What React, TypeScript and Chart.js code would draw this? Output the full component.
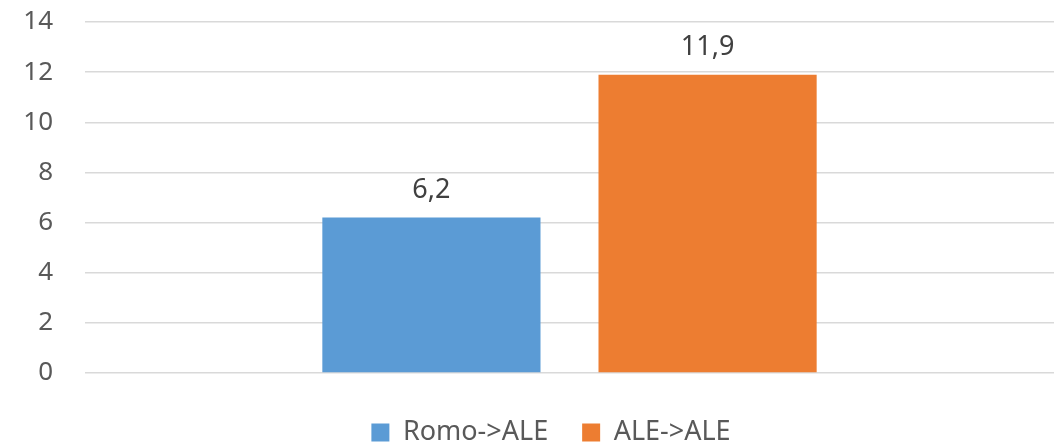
import React, { useEffect, useRef } from "react";
import { Chart, registerables } from "chart.js";

Chart.register(...registerables);

const categories: string[] = [""];
const seriesNames: string[] = ["Romo->ALE", "ALE->ALE"];
const romoValues: number[] = [6.2];
const aleValues: number[] = [11.9];
const seriesColors: string[] = ["#5B9BD5", "#ED7D31"];
const yMin = 0;
const yMax = 14;
const yStep = 2;

const FONT = "'Noto Sans', 'DejaVu Sans', sans-serif";

const dataLabelPlugin = {
  id: "dataLabels",
  afterDatasetsDraw(chart: any) {
    const ctx = chart.ctx;
    ctx.save();
    ctx.font = `27px ${FONT}`;
    ctx.fillStyle = "#404040";
    ctx.textAlign = "center";
    ctx.textBaseline = "alphabetic";
    chart.data.datasets.forEach((ds: any, i: number) => {
      const meta = chart.getDatasetMeta(i);
      meta.data.forEach((bar: any, j: number) => {
        const v = ds.data[j];
        const txt = String(v).replace(".", ",");
        ctx.fillText(txt, bar.x, bar.y - 20);
      });
    });
    ctx.restore();
  },
};

const legendShiftPlugin = {
  id: "legendShift",
  afterLayout(chart: any) {
    if (chart.legend) {
      chart.legend.left += 24;
      chart.legend.right += 24;
    }
  },
};

export default function App() {
  const ref = useRef<HTMLCanvasElement | null>(null);
  useEffect(() => {
    if (!ref.current) return;
    const chart = new Chart(ref.current, {
      type: "bar",
      data: {
        labels: categories,
        datasets: [
          {
            label: seriesNames[0],
            data: romoValues,
            backgroundColor: seriesColors[0],
            categoryPercentage: 0.57,
            barPercentage: 0.79,
          },
          {
            label: seriesNames[1],
            data: aleValues,
            backgroundColor: seriesColors[1],
            categoryPercentage: 0.57,
            barPercentage: 0.79,
          },
        ],
      },
      options: {
        animation: false,
        responsive: false,
        maintainAspectRatio: false,
        layout: { padding: { top: 22, right: 7, left: 0, bottom: 0 } },
        plugins: {
          legend: {
            position: "bottom",
            maxHeight: 61,
            labels: {
              font: { family: FONT, size: 27 },
              color: "#595959",
              boxWidth: 18,
              boxHeight: 18,
              padding: 34,
            },
          },
          tooltip: { enabled: false },
        },
        scales: {
          x: {
            ticks: { display: false },
            grid: { display: false },
            border: { display: false },
            afterFit: (scale: any) => {
              scale.height = 12;
            },
          },
          y: {
            min: yMin,
            max: yMax,
            ticks: {
              stepSize: yStep,
              font: { family: FONT, size: 26 },
              color: "#595959",
              padding: 32,
            },
            grid: { color: "#D9D9D9", lineWidth: 1.4, drawTicks: false },
            border: { display: false },
            afterFit: (scale: any) => {
              scale.width = 85;
              scale.paddingTop = 0;
              scale.paddingBottom = 0;
            },
          },
        },
      },
      plugins: [dataLabelPlugin, legendShiftPlugin],
    });
    return () => chart.destroy();
  }, []);
  return (
    <div style={{ position: "absolute", left: 0, top: 0, width: 1061, height: 446, background: "#fff" }}>
      <canvas ref={ref} width={1061} height={446} />
    </div>
  );
}
